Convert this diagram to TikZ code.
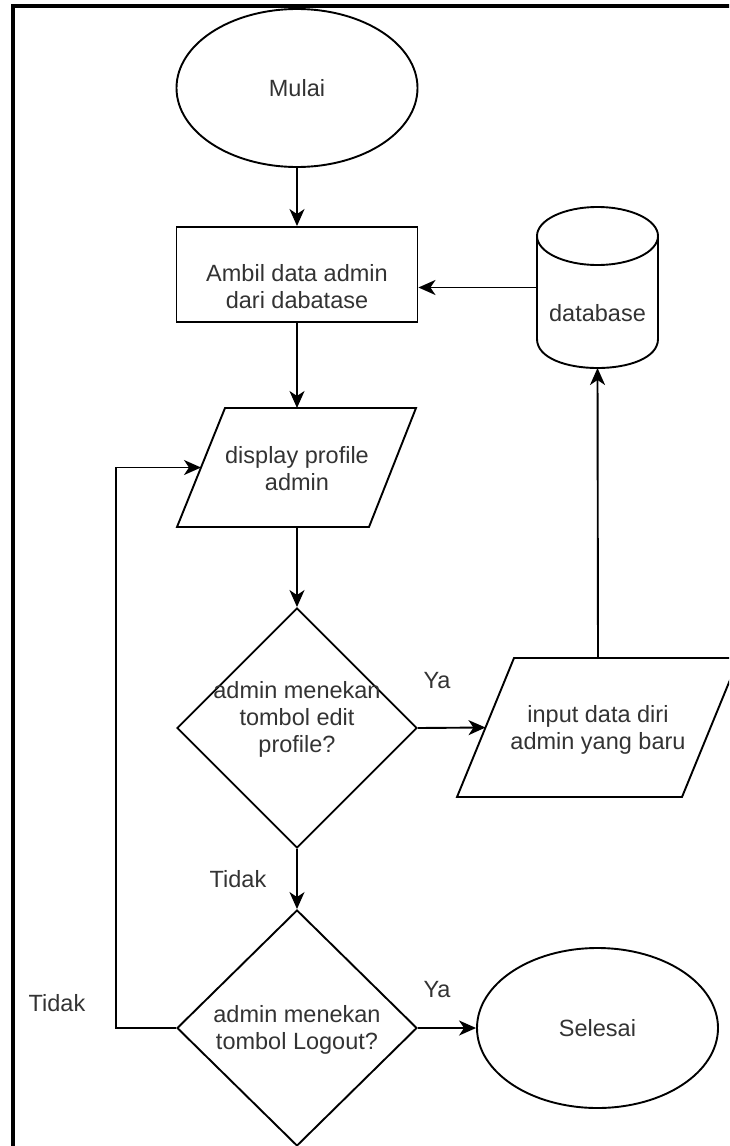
\documentclass[tikz,border=0pt]{standalone}
\usepackage{fontspec}
\setmainfont{Liberation Sans}
\usetikzlibrary{shapes.geometric,arrows.meta}
\begin{document}
\begin{tikzpicture}[x=1pt,y=-1pt,line width=1.9pt,
  txt/.style={font=\fontsize{23.5}{27}\selectfont,align=center,text=black!80,inner sep=0pt},
  shp/.style={draw,inner sep=0pt},
  helper/.style={inner sep=0pt,outer sep=0pt},
  arr/.style={-{Stealth[length=17pt,width=15pt,inset=5pt]},line width=1.9pt}]
\useasboundingbox (0,0) rectangle (729,1146);
\clip (0,0) rectangle (729,1146);
% frame
\draw[line width=4pt] (13,6) rectangle (780,1200);

% start
\node[shp,ellipse,minimum width=241pt,minimum height=158pt,txt] (start) at (297,88) {Mulai};
% rectangle
\node[shp,minimum width=241pt,minimum height=95pt] (ambil) at (297,274.5) {};
\node[txt] (ambilT) at (297,287) {Ambil data admin\\dari dabatase};

% database cylinder
\draw[fill=white] (537,236) -- (537,339) .. controls (537,377.7) and (658,377.7) .. (658,339) -- (658,236);
\draw (597.5,236) ellipse[x radius=60.5,y radius=29];
\node[helper,minimum width=121pt,minimum height=161pt] (db) at (597.5,287.5) {};
\node[txt] (dbT) at (597.5,313) {database};

% display parallelogram
\draw (225,408) -- (416,408) -- (369,527) -- (177,527) -- cycle;
\node[helper,minimum width=192pt,minimum height=119pt] (disp) at (297,467.5) {};
\node[txt] (dispT) at (297,469) {display profile\\admin};
\coordinate (dispW) at (201,467.5);

% decision 1
\node[shp,diamond,minimum width=240pt,minimum height=240pt] (d1) at (297,728) {};
\node[txt] (d1T) at (297,719) {admin menekan\\tombol edit\\profile?};

% input parallelogram
\draw (514,658) -- (739,658) -- (682,797) -- (457,797) -- cycle;
\node[helper,minimum width=225pt,minimum height=139pt] (inp) at (598,727.5) {};
\node[txt] (inpT) at (598,730) {input data diri\\admin yang baru};
\coordinate (inpW) at (485.5,727.5);

% decision 2
\node[shp,diamond,minimum width=240pt,minimum height=236pt] (d2) at (297,1028) {};
\node[txt] (d2T) at (297,1030) {admin menekan\\tombol Logout?};

% end
\node[shp,ellipse,minimum width=241pt,minimum height=160pt,txt] (end) at (597.5,1028) {Selesai};

% connectors
\draw[arr] (start.south) -- (ambil.north);
\draw[arr] (ambil.south) -- (disp.north);
\draw[arr] (disp.south) -- (d1.north);
\draw[arr] (d1.east) -- (inpW);
\draw[arr] (inp.north) -- (db.south);
\draw[arr] (db.west) -- (ambil.east |- db.west);
\draw[arr] (d1.south) -- (d2.north);
\draw[arr] (d2.east) -- (end.west);
\coordinate (loopc) at (116,1028);
\draw[arr] (d2.west) -- (loopc) |- (dispW);

% labels
\node[txt] (ya1) at (437,681) {Ya};
\node[txt] (tidak1) at (238,879) {Tidak};
\node[txt] (ya2) at (437,990) {Ya};
\node[txt] (tidak2) at (57,1003) {Tidak};
\end{tikzpicture}
\end{document}
